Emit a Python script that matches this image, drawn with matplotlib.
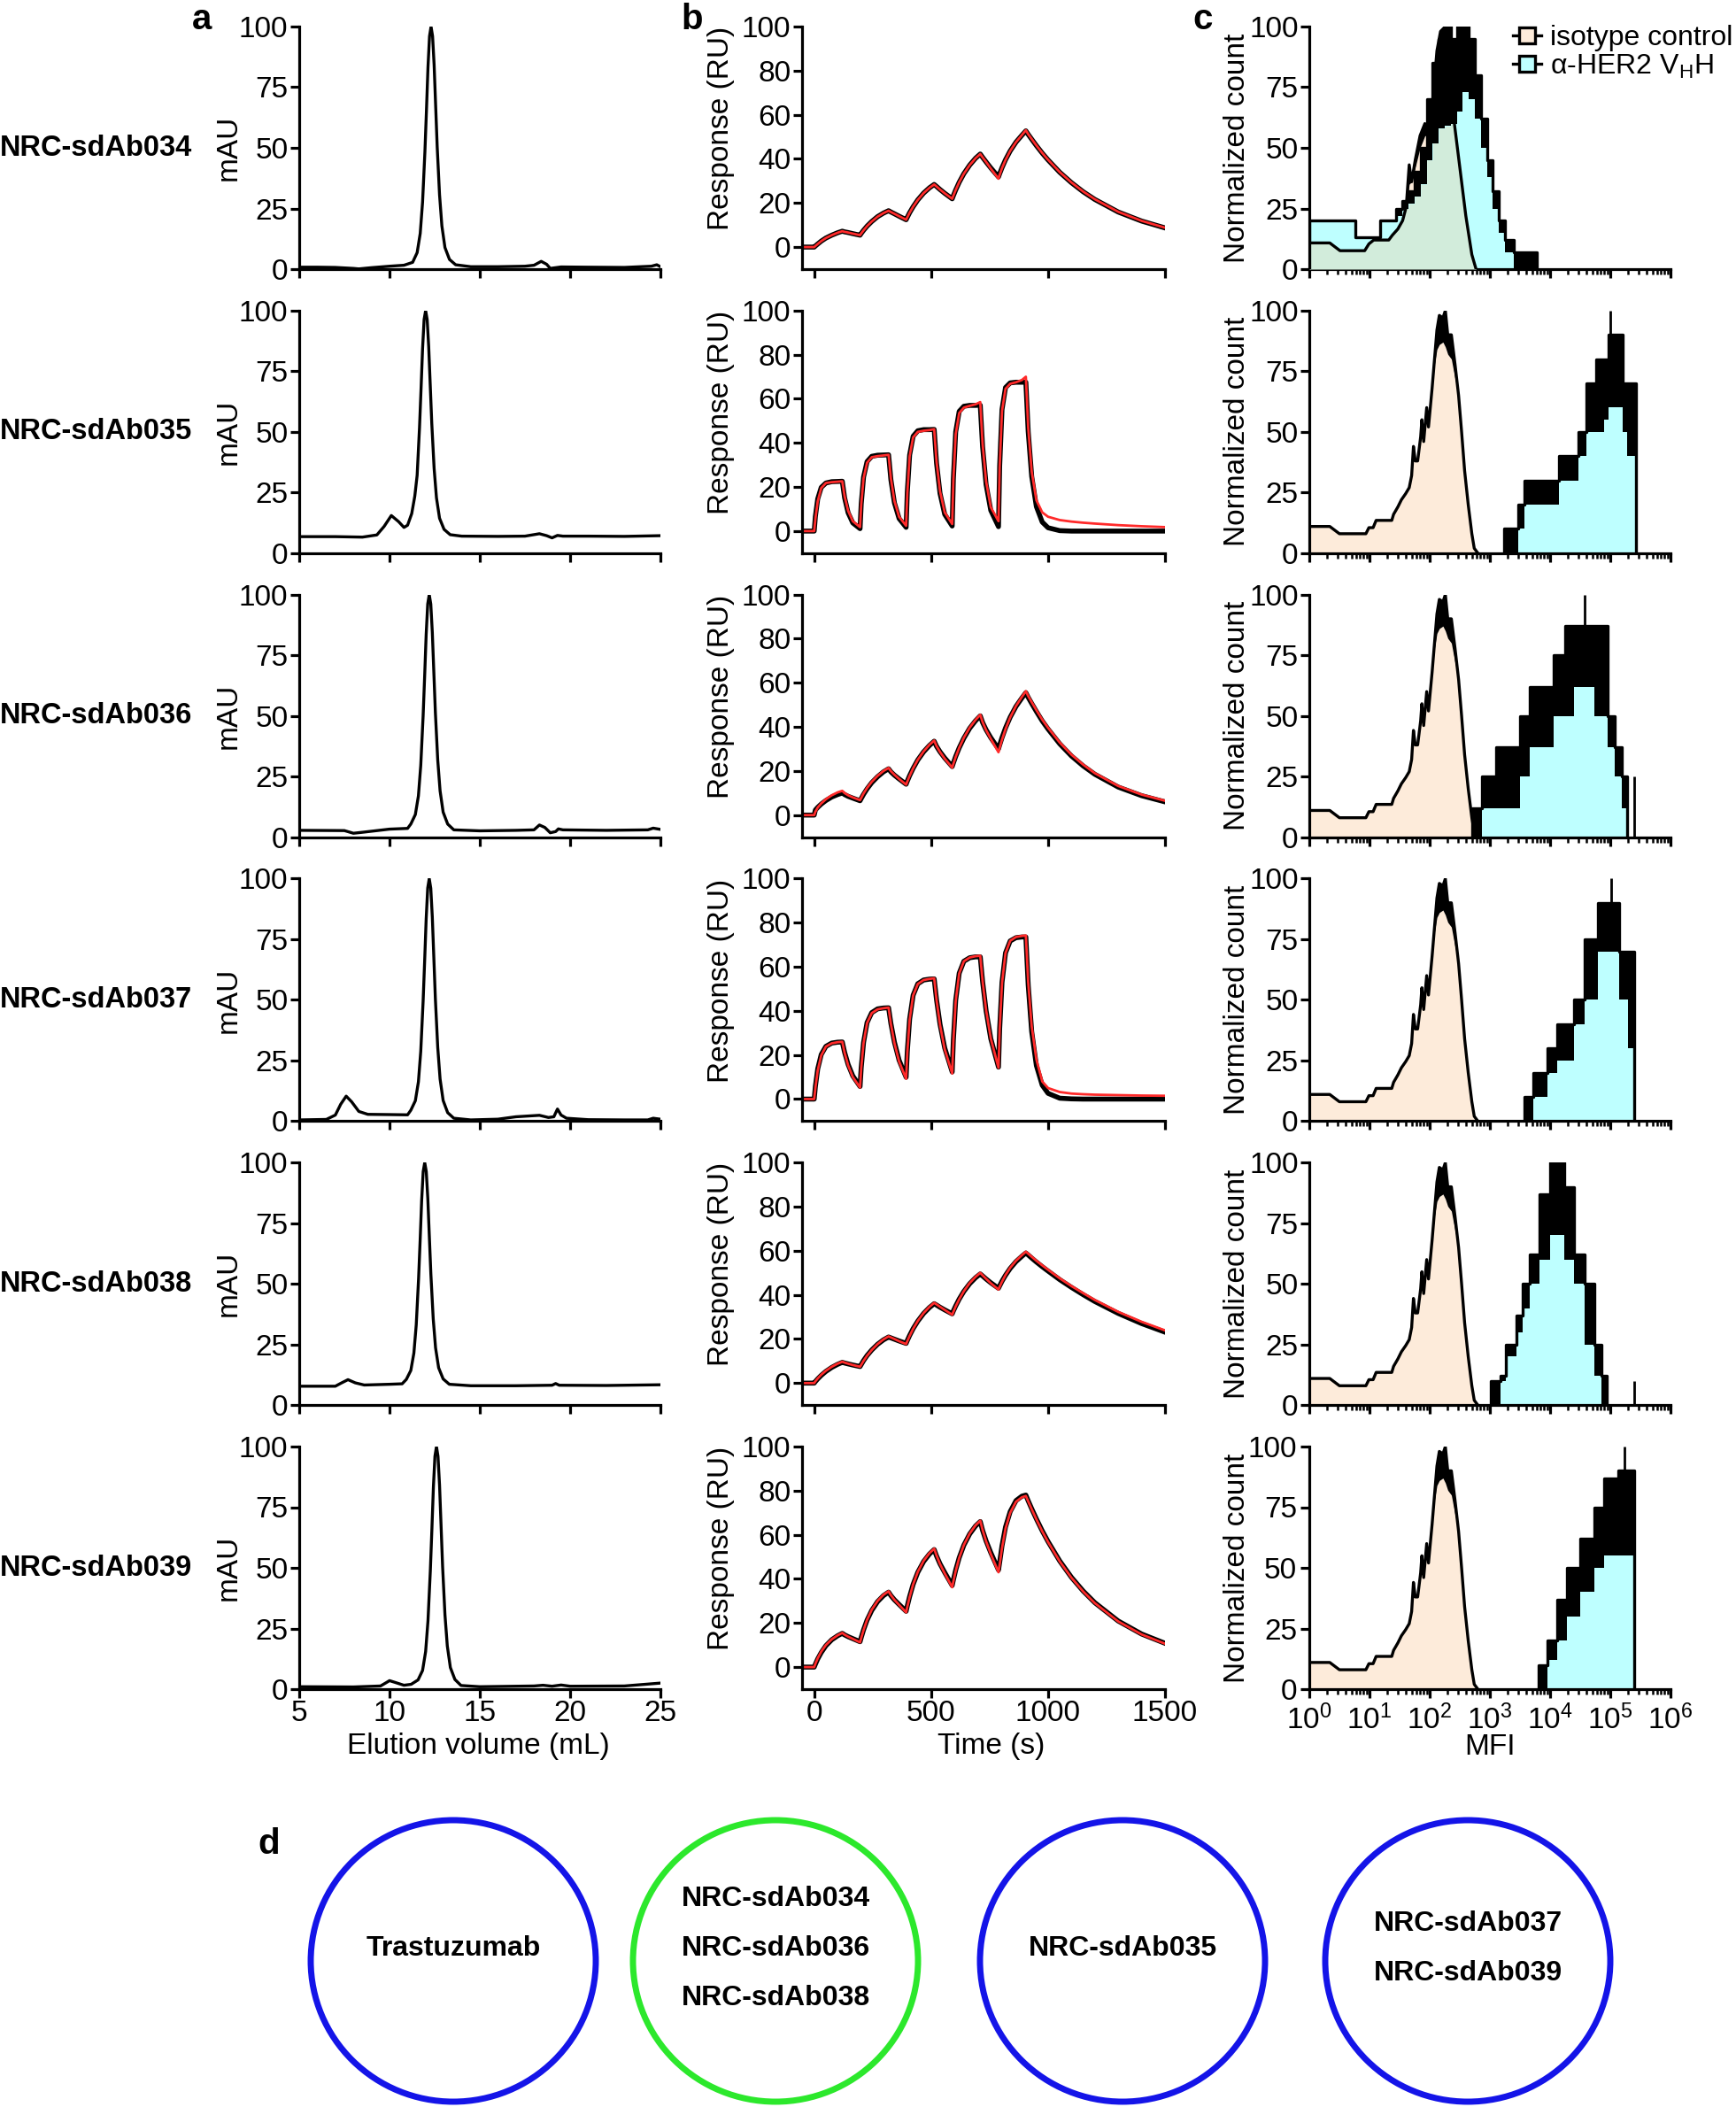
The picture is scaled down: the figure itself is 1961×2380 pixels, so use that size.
import numpy as np
import matplotlib
matplotlib.use('Agg')
import matplotlib.pyplot as plt
from matplotlib.patches import Ellipse
from matplotlib.lines import Line2D
from matplotlib.ticker import LogLocator, NullFormatter, FixedLocator

plt.rcParams['font.family'] = ['Liberation Sans', 'DejaVu Sans']
plt.rcParams['mathtext.fontset'] = 'custom'
plt.rcParams['mathtext.rm'] = 'Liberation Sans'
plt.rcParams['mathtext.it'] = 'Liberation Sans:italic'
plt.rcParams['mathtext.bf'] = 'Liberation Sans:bold'

# ---------------- data ----------------
row_names = ['NRC-sdAb034', 'NRC-sdAb035', 'NRC-sdAb036',
             'NRC-sdAb037', 'NRC-sdAb038', 'NRC-sdAb039']

# (a) size-exclusion chromatograms: elution volume (mL) / mAU
sec_x_034 = [5, 6, 7, 8, 8.3, 9, 10, 10.8, 11.28, 11.53, 11.7, 11.83, 11.96, 12.045, 12.13, 12.215, 12.3,
             12.385, 12.47, 12.555, 12.64, 12.77, 12.9, 13.07, 13.32, 13.66, 14.5, 16, 17.5, 18.0, 18.4,
             18.7, 18.9, 19.5, 21, 23, 24.5, 24.8, 25]
sec_y_034 = [0.8, 0.8, 0.7, 0.3, 0.1, 0.6, 1.2, 1.6, 2.8, 6.8, 14.7, 27.6, 48.4, 65.3, 83.2, 96.0, 100,
             96.0, 84.2, 67.3, 50.5, 30.7, 17.8, 8.9, 4.0, 1.8, 1.0, 1.0, 1.2, 1.6, 3.2,
             2.0, 0.3, 0.9, 0.8, 0.7, 1.2, 1.8, 1.0]
sec_x_035 = [5, 7, 8.5, 9.3, 9.7, 10.1, 10.5, 10.8, 11.0, 11.23, 11.4, 11.53, 11.66, 11.745, 11.83, 11.915,
             12.0, 12.085, 12.17, 12.255, 12.34, 12.47, 12.6, 12.77, 13.02, 13.36, 14, 16, 17.5, 18.3,
             18.7, 19.0, 19.3, 19.6, 21, 23, 25]
sec_y_035 = [6.8, 6.8, 6.6, 7.5, 11, 15.5, 13, 10.6, 11.5, 16.3, 23.5, 32.1, 51.6, 67.5, 84.2, 96.3,
             100, 96.3, 85.1, 69.3, 53.5, 34.9, 22.8, 14.4, 9.8, 7.6, 7.0, 6.9, 7.0, 8.0,
             7.2, 6.3, 7.3, 7.0, 7.0, 6.9, 7.2]
sec_x_036 = [5, 7.5, 8.0, 8.5, 10, 11, 11.18, 11.43, 11.6, 11.73, 11.86, 11.945, 12.03, 12.115, 12.2,
             12.285, 12.37, 12.455, 12.54, 12.67, 12.8, 12.97, 13.22, 13.56, 15, 17, 18.0, 18.3, 18.6,
             18.9, 19.2, 19.35, 19.6, 22, 24.3, 24.6, 25]
sec_y_036 = [2.8, 2.7, 1.6, 2.0, 3.3, 3.6, 5.4, 9.3, 17.0, 29.6, 49.8, 66.2, 83.6, 96.1, 100,
             96.1, 84.4, 67.8, 51.3, 31.8, 19.1, 10.3, 5.4, 3.0, 2.6, 2.8, 3.0, 5.0, 4.0,
             1.8, 2.3, 3.4, 3.0, 2.8, 3.0, 3.7, 3.2]
sec_x_037 = [5, 6.5, 7.0, 7.3, 7.6, 7.9, 8.3, 8.8, 10, 11, 11.18, 11.43, 11.6, 11.73, 11.86, 11.945,
             12.03, 12.115, 12.2, 12.285, 12.37, 12.455, 12.54, 12.67, 12.8, 12.97, 13.22, 13.56, 14.5,
             16, 17, 18.3, 18.8, 19.1, 19.3, 19.5, 19.8, 21, 23, 24.3, 24.6, 25]
sec_y_037 = [0.5, 0.7, 2.5, 7.0, 10.3, 8.0, 4.0, 2.8, 2.7, 2.6, 4.5, 8.4, 16.2, 28.8, 49.3, 65.9,
             83.4, 96.1, 100, 96.0, 84.1, 67.2, 50.3, 30.4, 17.4, 8.5, 3.5, 1.2, 0.5,
             0.8, 1.8, 2.4, 1.5, 1.8, 5.0, 2.5, 1.2, 0.6, 0.5, 0.5, 1.2, 0.8]
sec_x_038 = [5, 7, 7.3, 7.7, 8.1, 8.6, 10, 10.7, 10.93, 11.18, 11.35, 11.48, 11.61, 11.695, 11.78,
             11.865, 11.95, 12.035, 12.12, 12.205, 12.29, 12.42, 12.55, 12.72, 12.97, 13.31, 14.5, 17,
             19.0, 19.2, 19.4, 22, 25]
sec_y_038 = [7.8, 7.8, 9.0, 10.5, 9.2, 8.3, 8.6, 8.8, 10.6, 14.3, 21.5, 33.1, 52.2, 67.8, 84.4,
             96.3, 100, 96.3, 85.3, 69.6, 54.0, 35.6, 23.6, 15.4, 10.8, 8.6, 8.0, 8.0,
             8.2, 8.9, 8.2, 8.1, 8.4]
sec_x_039 = [5, 8, 9.5, 9.8, 10.0, 10.3, 10.8, 11.2, 11.58, 11.83, 12.0, 12.13, 12.26, 12.345, 12.43,
             12.515, 12.6, 12.685, 12.77, 12.855, 12.94, 13.07, 13.2, 13.37, 13.62, 13.96, 15, 18.0,
             18.5, 19.0, 19.5, 20, 23, 25]
sec_y_039 = [1.0, 0.9, 1.3, 2.6, 3.5, 2.8, 1.6, 2.0, 3.8, 7.7, 15.5, 28.2, 48.8, 65.6, 83.3,
             96.0, 100, 96.0, 84.2, 67.3, 50.5, 30.7, 17.8, 8.9, 4.0, 1.5, 1.0, 1.3,
             1.6, 1.2, 1.7, 1.2, 1.3, 2.5]

# (b) single-cycle SPR sensorgrams: time (s) / response (RU), observed (black) and fit (red)
spr_time = [-50, 0,
            5, 15, 30, 50, 75, 100, 120,
            130, 145, 165, 196,
            201, 211, 226, 246, 271, 296, 318,
            328, 343, 363, 393,
            398, 408, 423, 443, 468, 493, 513,
            523, 538, 558, 590,
            595, 605, 620, 640, 665, 690, 710,
            720, 735, 755, 788,
            793, 803, 818, 838, 863, 888, 905,
            915, 930, 950, 975, 1000, 1050, 1100, 1150, 1200, 1300, 1400, 1500]

spr_obs_034 = [0, 0, 0.5, 1.4, 2.7, 4.1, 5.4, 6.5, 7.2, 6.9, 6.6, 6.1, 5.4,
               6.2, 7.6, 9.5, 11.6, 13.8, 15.4, 16.5, 15.9, 15.1, 14.0, 12.4,
               13.5, 15.6, 18.3, 21.4, 24.5, 26.9, 28.4, 27.5, 26.1, 24.4, 21.9,
               23.3, 25.9, 29.4, 33.3, 37.2, 40.3, 42.2, 40.7, 38.6, 35.9, 31.8,
               33.3, 36.0, 39.6, 43.6, 47.6, 50.7, 52.7,
               51.1, 48.9, 46.0, 42.6, 39.5, 33.9, 29.2, 25.1, 21.6, 15.9, 11.8, 8.7]
spr_fit_034 = [0, 0, 0.5, 1.4, 2.7, 4.1, 5.4, 6.5, 7.2, 6.9, 6.6, 6.1, 5.4,
               6.2, 7.6, 9.5, 11.6, 13.8, 15.4, 16.5, 15.9, 15.1, 14.0, 12.4,
               13.5, 15.6, 18.3, 21.4, 24.5, 26.9, 28.4, 27.5, 26.1, 24.4, 21.9,
               23.3, 25.9, 29.4, 33.3, 37.2, 40.3, 42.2, 40.7, 38.6, 35.6, 31.0,
               32.8, 35.8, 39.5, 43.6, 47.6, 50.8, 53.0,
               51.2, 49.0, 46.1, 42.7, 39.6, 34.0, 29.3, 25.2, 21.7, 16.0, 11.9, 8.8]
spr_obs_035 = [0, 0, 6.6, 14.6, 19.8, 21.8, 22.4, 22.5, 22.6, 15.1, 8.3, 3.7, 1.1,
               12.3, 24.5, 31.5, 33.9, 34.4, 34.5, 34.6, 23.2, 12.8, 5.7, 1.7,
               17.6, 34.5, 43.0, 45.5, 46.0, 46.0, 46.1, 30.9, 17.1, 7.6, 2.3,
               23.6, 45.0, 54.3, 56.6, 57.0, 57.0, 57.1, 38.3, 21.1, 9.4, 2.0,
               29.5, 55.1, 65.1, 67.2, 67.5, 67.5, 67.5,
               45.2, 24.8, 11.1, 4.1, 1.5, 0.2, 0.0, 0.0, 0.0, 0.0, 0.0, 0.0]
spr_fit_035 = [0, 0, 5.5, 13.5, 19.5, 21.8, 22.2, 22.4, 22.6, 15.8, 9.2, 4.5, 1.8,
               12.0, 24.0, 31.0, 33.5, 34.0, 34.3, 34.6, 23.8, 13.6, 6.5, 2.4,
               17.0, 34.0, 42.5, 45.0, 45.5, 45.8, 46.2, 31.5, 18.0, 8.5, 3.2,
               23.0, 44.0, 53.5, 56.0, 56.8, 57.5, 58.5, 39.5, 22.5, 10.8, 4.5,
               29.0, 54.5, 64.5, 66.8, 67.5, 68.5, 70.0,
               47.0, 27.0, 14.0, 8.5, 6.5, 5.0, 4.3, 3.8, 3.4, 2.7, 2.2, 1.8]
spr_obs_036 = [0, 0, 2.3, 3.5, 5.0, 6.6, 8.2, 9.3, 10.0, 9.3, 8.5, 7.7, 6.5,
               7.5, 9.4, 11.9, 14.7, 17.4, 19.6, 21.0, 19.6, 18.1, 16.4, 14.0,
               15.4, 17.9, 21.2, 25.0, 28.7, 31.6, 33.5, 31.2, 28.7, 25.9, 22.0,
               23.6, 26.6, 30.5, 34.9, 39.4, 42.8, 45.0, 42.0, 38.7, 35.1, 30.0,
               31.8, 35.1, 39.5, 44.4, 49.3, 53.1, 55.5,
               53.4, 50.6, 47.0, 42.7, 39.0, 32.3, 26.8, 22.3, 18.5, 12.7, 8.8, 6.0]
spr_fit_036 = [0, 0, 1.5, 3.4, 5.3, 7.2, 9.0, 10.3, 11.0, 10.0, 9.0, 8.0, 6.8,
               7.8, 9.8, 12.3, 15.1, 17.8, 20.0, 21.4, 19.9, 18.3, 16.4, 13.8,
               15.2, 17.8, 21.2, 25.1, 28.9, 31.9, 33.8, 31.3, 28.6, 25.6, 21.5,
               23.2, 26.4, 30.5, 35.1, 39.7, 43.2, 45.5, 42.2, 38.5, 34.6, 28.5,
               30.5, 34.2, 39.0, 44.3, 49.5, 53.6, 56.2,
               54.0, 51.2, 47.6, 43.3, 39.6, 32.9, 27.4, 22.9, 19.0, 13.2, 9.3, 6.5]
spr_obs_037 = [0, 0, 5.7, 13.7, 20.2, 23.9, 25.4, 25.8, 25.9, 21.2, 15.7, 10.5, 5.7,
               14.3, 25.7, 34.7, 39.2, 40.9, 41.3, 41.4, 34.2, 25.8, 17.6, 9.9,
               21.5, 36.3, 47.1, 52.3, 54.0, 54.4, 54.5, 45.1, 33.9, 23.2, 12.3,
               26.8, 44.8, 57.1, 62.5, 64.1, 64.5, 64.5, 53.3, 40.1, 27.4, 14.5,
               31.9, 52.9, 66.3, 71.7, 73.2, 73.5, 73.5,
               51.8, 30.6, 15.2, 6.3, 2.6, 0.4, 0.1, 0.0, 0.0, 0.0, 0.0, 0.0]
spr_fit_037 = [0, 0, 5.0, 13.0, 19.8, 23.8, 25.3, 25.8, 26.0, 21.0, 15.3, 10.0, 5.2,
               14.0, 25.5, 34.5, 39.0, 40.7, 41.2, 41.5, 34.0, 25.4, 17.0, 9.2,
               21.0, 36.0, 47.0, 52.2, 54.0, 54.5, 54.8, 45.0, 33.6, 22.6, 11.6,
               26.3, 44.5, 57.0, 62.5, 64.2, 64.8, 65.0, 53.5, 40.3, 27.5, 14.2,
               31.5, 52.6, 66.2, 71.8, 73.5, 74.0, 74.2,
               53.0, 33.0, 18.0, 8.0, 5.0, 3.2, 2.5, 2.2, 2.0, 1.8, 1.6, 1.5]
spr_obs_038 = [0, 0, 0.7, 1.9, 3.5, 5.3, 7.1, 8.5, 9.4, 9.1, 8.7, 8.2, 7.5,
               8.4, 10.2, 12.5, 15.0, 17.6, 19.6, 20.9, 20.5, 19.9, 19.1, 18.0,
               19.3, 21.6, 24.7, 28.1, 31.6, 34.3, 36.0, 35.4, 34.4, 33.2, 31.4,
               32.7, 35.0, 38.1, 41.6, 45.1, 47.8, 49.5, 48.6, 47.2, 45.5, 43.0,
               44.1, 46.2, 48.9, 52.0, 55.1, 57.5, 59.0,
               58.1, 56.7, 54.9, 52.8, 50.8, 46.9, 43.4, 40.1, 37.0, 31.6, 27.0, 23.1]
spr_fit_038 = [0, 0, 0.8, 2.1, 3.8, 5.6, 7.4, 8.8, 9.7, 9.3, 8.8, 8.2, 7.4,
               8.3, 10.1, 12.4, 15.0, 17.7, 19.8, 21.2, 20.7, 20.0, 19.0, 17.7,
               19.0, 21.4, 24.6, 28.2, 31.8, 34.6, 36.4, 35.7, 34.6, 33.2, 31.0,
               32.3, 34.8, 38.0, 41.7, 45.4, 48.2, 50.0, 48.9, 47.3, 45.3, 42.4,
               43.7, 46.0, 49.0, 52.3, 55.5, 58.0, 59.6,
               58.7, 57.3, 55.5, 53.4, 51.4, 47.5, 44.0, 40.8, 37.7, 32.3, 27.8, 23.9]
spr_obs_039 = [0, 0, 1.3, 3.7, 6.6, 9.7, 12.4, 14.2, 15.3, 14.6, 13.8, 12.9, 11.5,
               13.4, 16.9, 21.3, 25.7, 29.7, 32.4, 34.0, 32.4, 30.5, 28.4, 25.3,
               27.7, 32.0, 37.5, 43.0, 47.9, 51.3, 53.3, 50.4, 46.8, 42.9, 37.0,
               39.5, 44.0, 49.6, 55.3, 60.4, 64.0, 66.0, 62.0, 57.2, 51.9, 44.0,
               47.5, 55.0, 63.5, 70.5, 75.5, 77.5, 78.0,
               75.4, 71.8, 67.2, 61.8, 56.9, 48.1, 40.7, 34.5, 29.2, 20.9, 15.0, 10.8]
spr_fit_039 = [0, 0, 1.5, 4.0, 7.0, 10.0, 12.6, 14.4, 15.5, 14.7, 13.8, 12.8, 11.2,
               13.2, 16.8, 21.4, 26.0, 30.0, 32.8, 34.4, 32.6, 30.5, 28.2, 24.8,
               27.3, 31.8, 37.5, 43.2, 48.2, 51.7, 53.7, 50.6, 46.7, 42.5, 36.2,
               38.8, 43.6, 49.5, 55.4, 60.6, 64.3, 66.4, 62.2, 57.0, 51.3, 43.0,
               46.5, 54.0, 62.8, 70.0, 75.0, 77.0, 77.6,
               75.2, 71.6, 67.0, 61.6, 56.7, 47.9, 40.5, 34.3, 29.0, 20.7, 14.8, 10.6]

# (c) flow cytometry histograms, x in log10(MFI); lo = filled envelope, hi = outline maximum
iso1_logx = [0.0, 0.34, 0.51, 0.92, 0.99, 1.07, 1.32, 1.38, 1.47, 1.55, 1.61, 1.66, 1.70, 1.76, 1.84,
             1.92, 1.98, 2.06, 2.12, 2.18, 2.26, 2.32, 2.40, 2.50, 2.60, 2.70, 2.77]
iso1_hi = [10.8, 10.8, 7.6, 7.6, 10.4, 12, 12, 14, 16.5, 20, 25.7, 43, 36, 45, 55,
           60, 56, 72, 90, 98, 100, 90, 62, 42, 22, 6, 0]
iso1_lo = [10.8, 10.8, 7.6, 7.6, 10.4, 12, 12, 14, 16.5, 20, 25.7, 35, 36, 42, 50,
           55, 55, 65, 78, 85, 87, 80, 60, 40, 22, 6, 0]

iso_logx = [0.0, 0.34, 0.50, 0.94, 0.99, 1.06, 1.11, 1.37, 1.40, 1.47, 1.53, 1.60, 1.66, 1.70, 1.73,
            1.76, 1.80, 1.85, 1.87, 1.90, 1.95, 1.98, 2.04, 2.08, 2.12, 2.16, 2.22, 2.26, 2.30, 2.36,
            2.42, 2.48, 2.53, 2.58, 2.64, 2.70, 2.74, 2.80]
iso_hi = [11, 11, 8, 8, 10.5, 10.5, 13.5, 13.5, 16, 19, 22, 24.5, 27, 32, 44,
          38, 38, 48, 55, 46, 60, 52, 68, 80, 92, 98, 97, 100, 90, 90,
          78, 65, 50, 34, 20, 8, 2, 0]
iso_lo = [11, 11, 8, 8, 10.5, 10.5, 13.5, 13.5, 16, 19, 22, 24.5, 27, 32, 44,
          38, 38, 48, 55, 46, 60, 52, 68, 78, 84, 86, 87, 85, 82, 80,
          72, 65, 50, 34, 20, 8, 2, 0]

her_logx_034 = [0.0, 0.76, 1.18, 1.44, 1.55, 1.65, 1.75, 1.85, 1.95, 2.05, 2.15, 2.25, 2.35, 2.45,
                2.55, 2.65, 2.75, 2.85, 2.95, 3.05, 3.15, 3.25, 3.40, 3.78]
her_lo_034 = [20, 13, 20, 22, 25, 27, 30, 35, 45, 52, 58, 59, 60, 65, 73, 70, 62, 50, 38, 25, 15, 7, 0, 0]
her_hi_034 = [20, 13, 20, 25, 28, 32, 40, 50, 70, 85, 95, 100, 95, 100, 100, 95, 80, 62, 45, 32, 20, 12, 7, 0]

her_logx_035 = [3.24, 3.31, 3.47, 3.58, 3.76, 3.95, 4.15, 4.32, 4.47, 4.60, 4.77, 4.90, 4.97, 5.11, 5.20, 5.28, 5.43]
her_lo_035 = [0, 0, 10, 20, 20, 20, 30, 30, 40, 50, 50, 55, 60, 60, 50, 40, 0]
her_hi_035 = [10, 10, 20, 30, 30, 30, 40, 40, 50, 70, 80, 80, 90, 90, 70, 70, 0]

her_logx_036 = [2.71, 2.87, 3.10, 3.50, 3.66, 4.06, 4.25, 4.40, 4.73, 4.96, 5.07, 5.19, 5.28]
her_lo_036 = [0, 12, 12, 25, 37, 50, 50, 62, 50, 37, 25, 12, 0]
her_hi_036 = [12, 25, 37, 50, 62, 75, 87, 87, 87, 50, 37, 25, 0]

her_logx_037 = [3.58, 3.72, 3.95, 4.12, 4.40, 4.57, 4.80, 4.95, 5.14, 5.30, 5.40]
her_lo_037 = [0, 10, 20, 25, 40, 50, 70, 70, 50, 30, 0]
her_hi_037 = [10, 20, 30, 40, 50, 75, 90, 90, 70, 70, 0]

her_logx_038 = [3.02, 3.18, 3.27, 3.44, 3.55, 3.66, 3.83, 4.00, 4.23, 4.40, 4.57, 4.73, 4.85, 4.94]
her_lo_038 = [0, 10, 20, 30, 40, 50, 60, 70, 60, 50, 25, 12, 0, 0]
her_hi_038 = [10, 12, 25, 37, 50, 62, 87, 100, 90, 62, 50, 25, 12, 0]

her_logx_039 = [3.81, 3.95, 4.12, 4.28, 4.50, 4.73, 4.90, 5.13, 5.39]
her_lo_039 = [0, 12, 20, 30, 40, 50, 55, 55, 0]
her_hi_039 = [10, 20, 37, 50, 62, 75, 87, 90, 0]

# isolated spikes: (log10 x, bottom, top)
spikes_034 = []
spikes_035 = [(5.00, 85, 100)]
spikes_036 = [(4.57, 80, 100), (5.39, 0, 25)]
spikes_037 = [(5.02, 85, 100)]
spikes_038 = [(5.39, 0, 10)]
spikes_039 = [(5.24, 85, 100)]

# (d) epitope bins
bin_members = [['Trastuzumab'],
               ['NRC-sdAb034', 'NRC-sdAb036', 'NRC-sdAb038'],
               ['NRC-sdAb035'],
               ['NRC-sdAb037', 'NRC-sdAb039']]
bin_colors = ['#1414E8', '#2CE82C', '#1414E8', '#1414E8']

# ---------------- layout ----------------
W, H = 1961, 2380
fig = plt.figure(figsize=(W / 100, H / 100), dpi=100)

PEACH = '#FDEBDA'
CYAN = '#BEFFFF'
OVERLAP = '#D2ECDB'
RED = '#FF2A2A'
FS = 24

def add_ax(x0, x1, ytop, ybot):
    return fig.add_axes([x0 / W, 1 - ybot / H, (x1 - x0) / W, (ybot - ytop) / H])

def style(ax):
    for s in ['top', 'right']:
        ax.spines[s].set_visible(False)
    for s in ['left', 'bottom']:
        ax.spines[s].set_linewidth(2.3)
    ax.tick_params(axis='both', which='major', length=7, width=2.3, labelsize=FS, pad=2,
                   direction='out', color='black')
    ax.patch.set_alpha(0)

sec_x = [sec_x_034, sec_x_035, sec_x_036, sec_x_037, sec_x_038, sec_x_039]
sec_y = [sec_y_034, sec_y_035, sec_y_036, sec_y_037, sec_y_038, sec_y_039]
spr_obs = [spr_obs_034, spr_obs_035, spr_obs_036, spr_obs_037, spr_obs_038, spr_obs_039]
spr_fit = [spr_fit_034, spr_fit_035, spr_fit_036, spr_fit_037, spr_fit_038, spr_fit_039]
her_x = [her_logx_034, her_logx_035, her_logx_036, her_logx_037, her_logx_038, her_logx_039]
her_lo = [her_lo_034, her_lo_035, her_lo_036, her_lo_037, her_lo_038, her_lo_039]
her_hi = [her_hi_034, her_hi_035, her_hi_036, her_hi_037, her_hi_038, her_hi_039]
spikes = [spikes_034, spikes_035, spikes_036, spikes_037, spikes_038, spikes_039]

COL_A = (338, 746)
COL_B = (906, 1316)
COL_C = (1479, 1887)
TOP0, BOT0, PITCH = 30, 304, 320.8

fine = np.linspace(0, 6, 6001)

def step_eval(xe, v, u):
    xe = np.asarray(xe); v = np.asarray(v, dtype=float)
    idx = np.searchsorted(xe, u, side='right') - 1
    out = np.zeros_like(u)
    ok = (idx >= 0) & (u < xe[-1])
    out[ok] = v[idx[ok]]
    return out

for i in range(6):
    top = TOP0 + PITCH * i
    bot = BOT0 + PITCH * i
    last = (i == 5)

    # ---- (a) SEC ----
    ax = add_ax(COL_A[0], COL_A[1], top, bot)
    style(ax)
    ax.plot(sec_x[i], sec_y[i], color='black', lw=2.4, solid_joinstyle='round')
    ax.set_xlim(5, 25)
    ax.set_ylim(0, 100)
    ax.set_xticks([5, 10, 15, 20, 25])
    ax.set_yticks([0, 25, 50, 75, 100])
    ax.tick_params(labelbottom=last)
    fig.text(258 / W, 1 - (top + bot) / 2 / H, 'mAU', rotation=90, ha='center', va='center', fontsize=FS)
    fig.text(0, 1 - (top + bot) / 2 / H, row_names[i], ha='left', va='center', fontsize=23.5,
             fontweight='bold')

    # ---- (b) SPR ----
    ax = add_ax(COL_B[0], COL_B[1], top, bot)
    style(ax)
    ax.plot(spr_time, spr_obs[i], color='black', lw=4.0, solid_joinstyle='round')
    ax.plot(spr_time, spr_fit[i], color=RED, lw=2.0, solid_joinstyle='round')
    ax.set_xlim(-52, 1500)
    ax.set_ylim(-10, 100)
    ax.set_xticks([0, 500, 1000, 1500])
    ax.set_yticks([0, 20, 40, 60, 80, 100])
    ax.tick_params(labelbottom=last)
    yc = top + (bot - top) * 45 / 110 + 3
    fig.text(815 / W, 1 - yc / H, 'Response (RU)', rotation=90, ha='center', va='center', fontsize=FS)

    # ---- (c) flow histograms ----
    ax = add_ax(COL_C[0], COL_C[1], top, bot)
    style(ax)
    ax.set_xscale('log')
    if i == 0:
        ix, ilo, ihi = iso1_logx, iso1_lo, iso1_hi
    else:
        ix, ilo, ihi = iso_logx, iso_lo, iso_hi
    ix10 = 10 ** np.asarray(ix)
    ax.fill_between(ix10, 0, ilo, color=PEACH, lw=0, zorder=1)
    hx = np.asarray(her_x[i])
    hx10 = 10 ** hx
    ax.fill_between(hx10, 0, her_lo[i], step='post', color=CYAN, lw=0, zorder=2)
    # overlap of the two filled histograms
    ov = np.minimum(np.interp(fine, ix, ilo, left=0, right=0), step_eval(hx, her_lo[i], fine))
    if ov.max() > 0:
        ax.fill_between(10 ** fine, 0, ov, color=OVERLAP, lw=0, zorder=3)
    # noisy black bands
    ax.fill_between(ix10, ilo, ihi, color='black', lw=0, zorder=4)
    ax.fill_between(hx10, her_lo[i], her_hi[i], step='post', color='black', lw=0, zorder=4)
    ax.plot(ix10, ihi, color='black', lw=2.4, zorder=5)
    ax.plot(np.r_[hx10[0], hx10], np.r_[0, her_hi[i]], drawstyle='steps-post', color='black',
            lw=2.4, zorder=5)
    for (sx, sb, st) in spikes[i]:
        ax.vlines(10 ** sx, sb, st, color='black', lw=2.0, zorder=5)
    ax.set_xlim(1, 1e6)
    ax.set_ylim(0, 100)
    ax.set_yticks([0, 25, 50, 75, 100])
    ax.xaxis.set_major_locator(FixedLocator([10.0 ** k for k in range(7)]))
    ax.xaxis.set_minor_locator(LogLocator(base=10, subs=np.arange(2, 10), numticks=100))
    ax.xaxis.set_minor_formatter(NullFormatter())
    ax.tick_params(axis='x', which='minor', length=4, width=1.8, direction='out')
    if last:
        ax.set_xticklabels([r'$10^{%d}$' % k for k in range(7)])
        ax.tick_params(axis='x', which='major', pad=6)
        ax.tick_params(axis='y', which='major', pad=3)
    else:
        ax.tick_params(labelbottom=False)
    fig.text(1397 / W, 1 - (top + bot) / 2 / H, 'Normalized count', rotation=90, ha='center',
             va='center', fontsize=FS)

# x-axis titles
fig.text(540 / W, 1 - 1973 / H, 'Elution volume (mL)', ha='center', va='center', fontsize=FS)
fig.text(1120 / W, 1 - 1973 / H, 'Time (s)', ha='center', va='center', fontsize=FS)
fig.text(1683 / W, 1 - 1973 / H, 'MFI', ha='center', va='center', fontsize=FS)

# panel letters
for lab, (px, py) in zip(['a', 'b', 'c', 'd'], [(228, 22), (782, 22), (1359, 22), (304, 2083)]):
    fig.text(px / W, 1 - py / H, lab, ha='center', va='center', fontsize=29, fontweight='bold')

# legend for (c)
handles = [Line2D([], [], color='black', lw=2.4, marker='s', markersize=13,
                  markerfacecolor=PEACH, markeredgecolor='black', markeredgewidth=2.4),
           Line2D([], [], color='black', lw=2.4, marker='s', markersize=13,
                  markerfacecolor=CYAN, markeredgecolor='black', markeredgewidth=2.4)]
fig.legend(handles, ['isotype control', r'α-HER2 V$_{\mathregular{H}}$H'], loc='upper left',
           bbox_to_anchor=(1709 / W, 1 - 28 / H), frameon=False, fontsize=23,
           handlelength=1.0, handletextpad=0.3, labelspacing=0.05, borderaxespad=0, borderpad=0)

# ---- (d) epitope bins ----
axd = fig.add_axes([0, 0, 1, 380 / H])
axd.set_xlim(0, W)
axd.set_ylim(380, 0)
axd.axis('off')
centers_x = [512, 876, 1268, 1658]
cy = 2215 - 2000
for cx, members, col in zip(centers_x, bin_members, bin_colors):
    axd.add_patch(Ellipse((cx, cy), 322, 318, fill=False, edgecolor=col, lw=5))
    n = len(members)
    gap = 56
    for k, m in enumerate(members):
        yy = cy - 14 + (k - (n - 1) / 2) * gap
        axd.text(cx, yy, m, ha='center', va='center', fontsize=23, fontweight='bold')

fig.savefig('out.png', dpi=100)
